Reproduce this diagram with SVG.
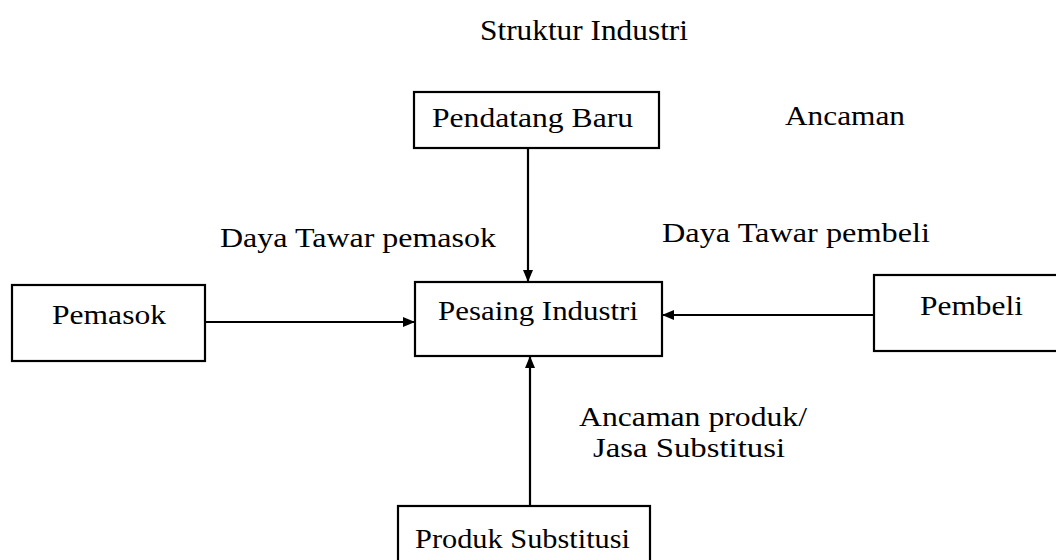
<svg xmlns="http://www.w3.org/2000/svg" width="1056" height="560" viewBox="0 0 1056 560">
<style>
text{font-family:"Liberation Serif","Times New Roman",serif;font-size:27px;fill:#000}
.title{font-size:30px}
.box{fill:#fff;stroke:#000;stroke-width:2.2}
.edge{stroke:#000;stroke-width:2.2;fill:none}
</style>
<defs>
<marker id="ah" viewBox="0 0 12 10" refX="12" refY="5" markerWidth="12" markerHeight="10" markerUnits="userSpaceOnUse" orient="auto">
<path d="M0,0 L12,5 L0,10 Z" fill="#000"/>
</marker>
</defs>
<rect width="1056" height="560" fill="#fff"/>
<text class="title" x="480" y="40" textLength="208" lengthAdjust="spacingAndGlyphs">Struktur Industri</text>
<text x="785" y="125" textLength="120" lengthAdjust="spacingAndGlyphs">Ancaman</text>
<text x="220" y="247" textLength="276" lengthAdjust="spacingAndGlyphs">Daya Tawar pemasok</text>
<text x="662" y="242" textLength="268" lengthAdjust="spacingAndGlyphs">Daya Tawar pembeli</text>
<text x="579" y="426" textLength="228" lengthAdjust="spacingAndGlyphs">Ancaman produk/</text>
<text x="593" y="457" textLength="192" lengthAdjust="spacingAndGlyphs">Jasa Substitusi</text>
<g id="connectors">
<line class="edge" x1="528" y1="148" x2="528" y2="282" marker-end="url(#ah)"/>
<line class="edge" x1="205" y1="322" x2="415" y2="322" marker-end="url(#ah)"/>
<line class="edge" x1="874" y1="315" x2="662" y2="315" marker-end="url(#ah)"/>
<line class="edge" x1="530" y1="506" x2="530" y2="356" marker-end="url(#ah)"/>
</g>
<g id="pendatang">
<rect class="box" x="414" y="92" width="245" height="56"/>
<text x="432" y="127" textLength="201" lengthAdjust="spacingAndGlyphs">Pendatang Baru</text>
</g>
<g id="pesaing">
<rect class="box" x="415" y="282" width="247" height="74"/>
<text x="438" y="320" textLength="200" lengthAdjust="spacingAndGlyphs">Pesaing Industri</text>
</g>
<g id="pemasok">
<rect class="box" x="12" y="285" width="193" height="76"/>
<text x="52" y="324" textLength="114" lengthAdjust="spacingAndGlyphs">Pemasok</text>
</g>
<g id="pembeli">
<rect class="box" x="874" y="275" width="200" height="76"/>
<text x="920" y="315" textLength="103" lengthAdjust="spacingAndGlyphs">Pembeli</text>
</g>
<g id="produk">
<rect class="box" x="398" y="506" width="252" height="70"/>
<text x="415" y="548" textLength="215" lengthAdjust="spacingAndGlyphs">Produk Substitusi</text>
</g>
</svg>
